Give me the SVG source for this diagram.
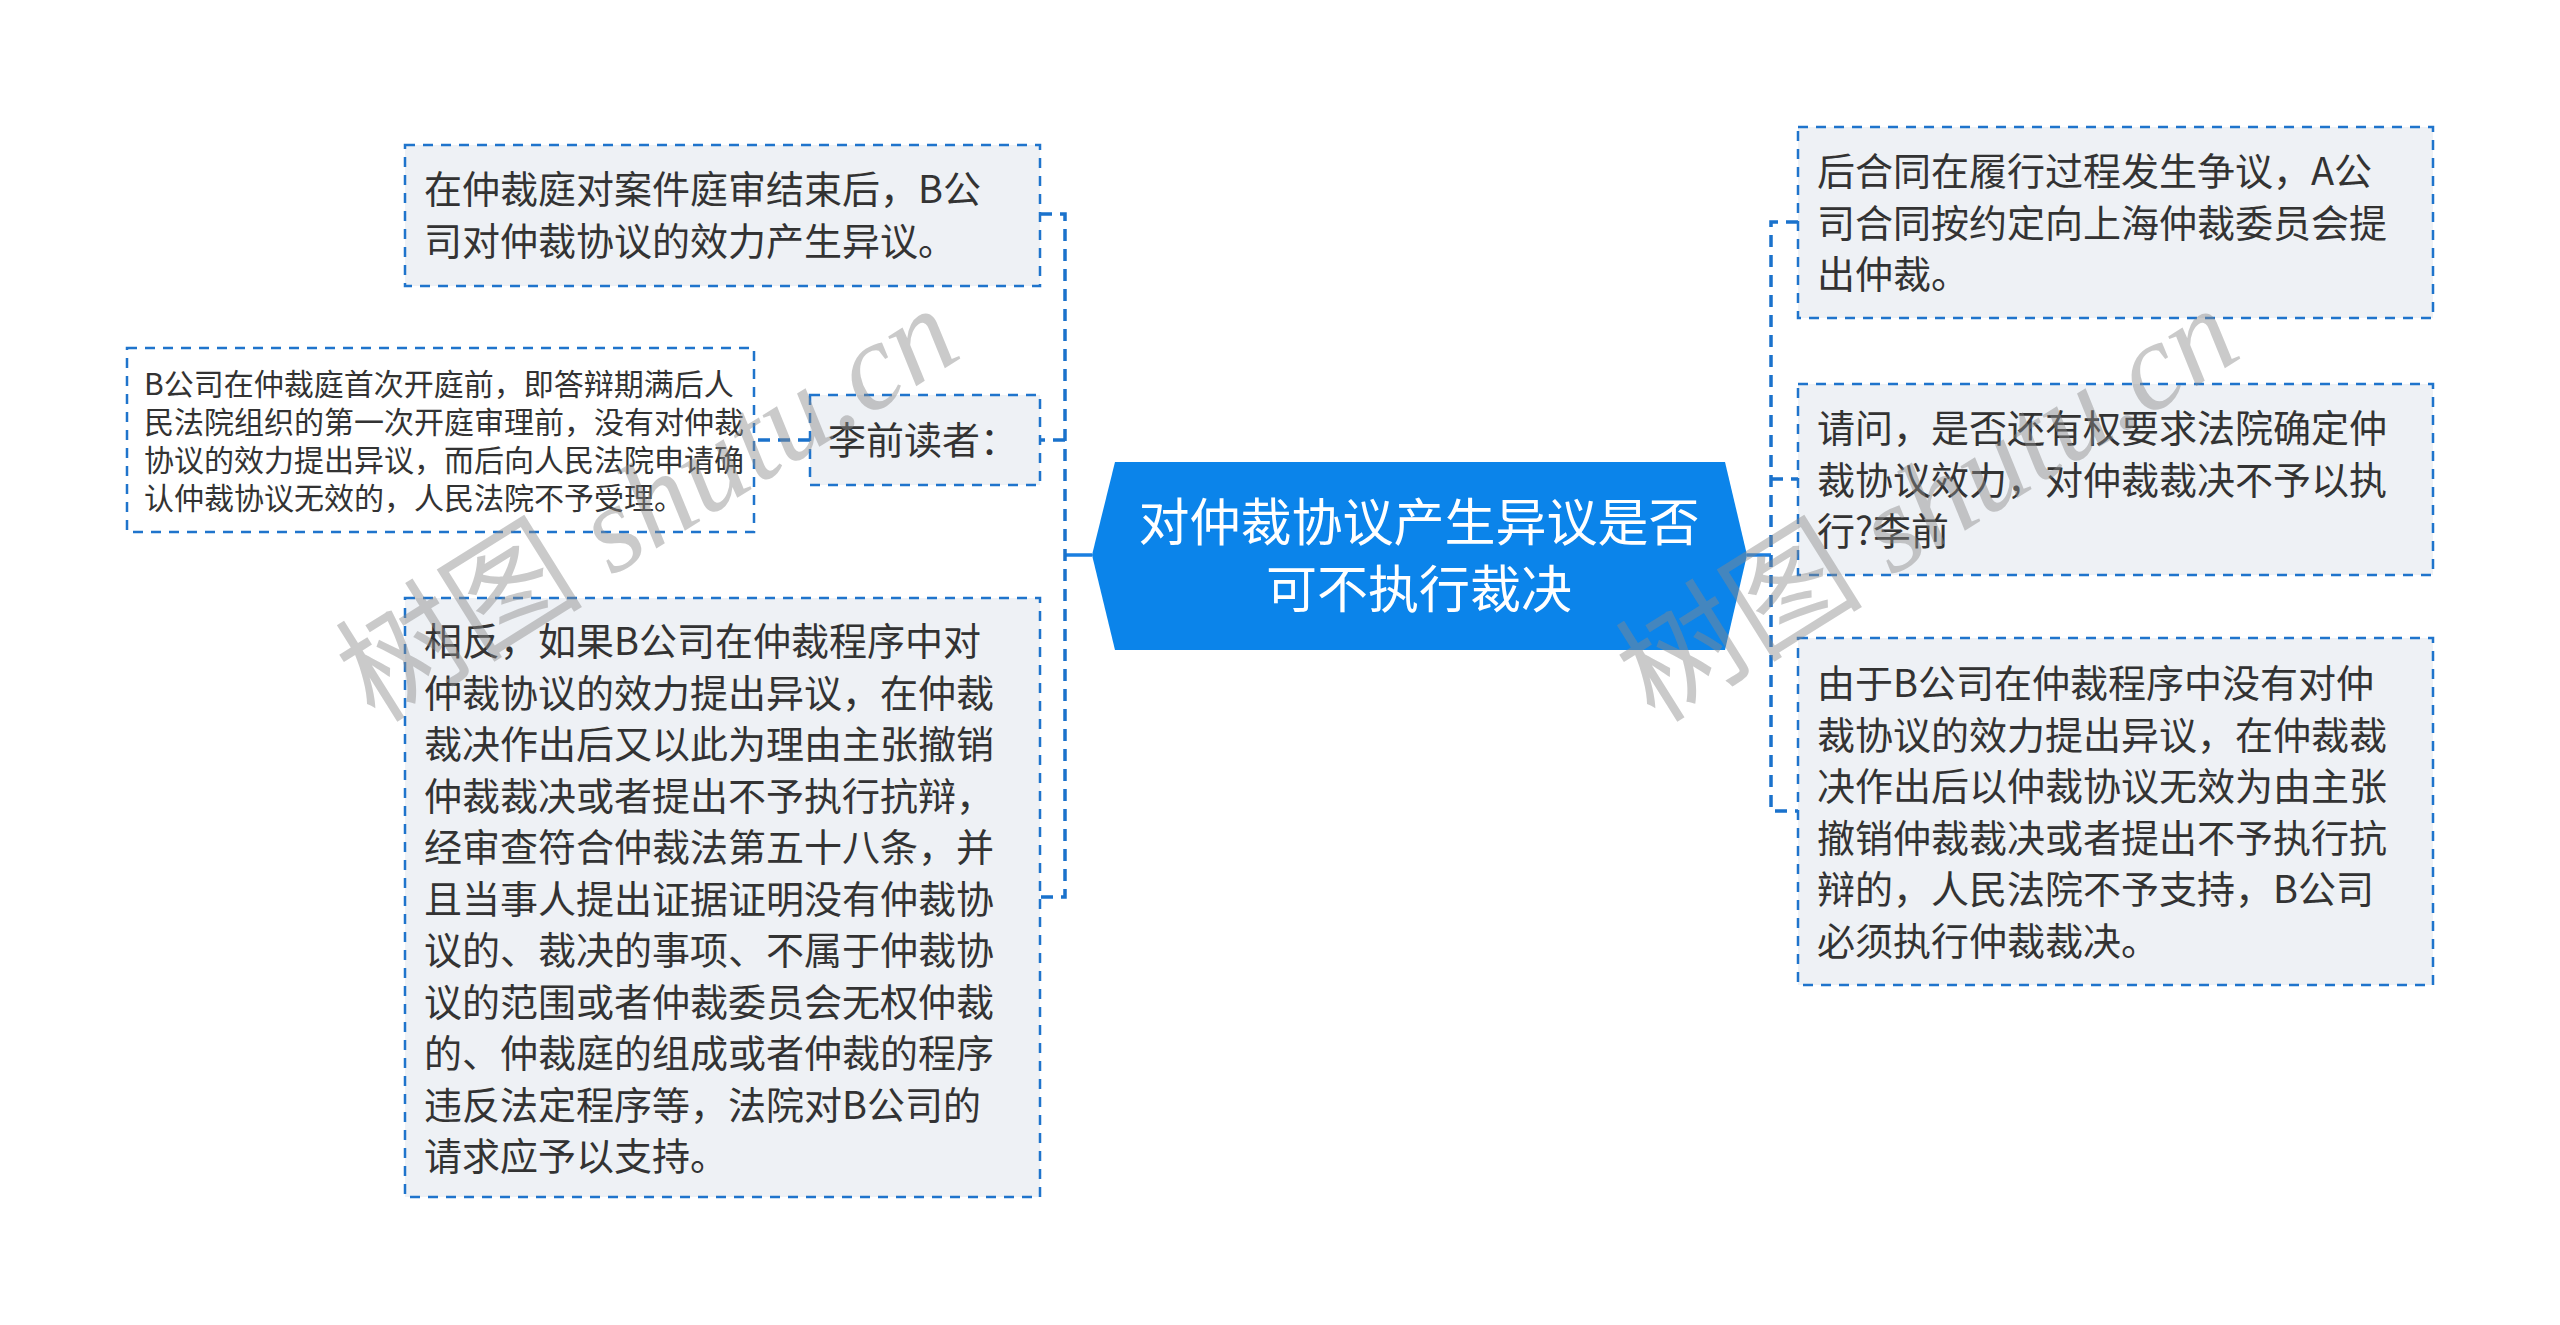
<svg xmlns="http://www.w3.org/2000/svg" width="2560" height="1325" viewBox="0 0 2560 1325">
<style>
  .box{fill:#eef1f5;stroke:#1f74cc;stroke-width:2.5;stroke-dasharray:10 8}
  .boxw{fill:#ffffff;stroke:#1f74cc;stroke-width:2.5;stroke-dasharray:10 8}
  .t{font-family:"Noto Sans CJK SC","Noto Sans",sans-serif;font-size:38px;fill:#333333}
  .ts{font-family:"Noto Sans CJK SC","Noto Sans",sans-serif;font-size:30px;fill:#333333}
  .tc{font-family:"Noto Sans CJK SC","Noto Sans",sans-serif;font-size:51px;fill:#ffffff;text-anchor:middle}
  .dash{fill:none;stroke:#1a72cc;stroke-width:3.5;stroke-dasharray:12 8}
  .solid{fill:none;stroke:#1a7ee0;stroke-width:3.5}
  .wm{font-family:"Liberation Serif","Noto Sans CJK SC",serif;font-size:124px;fill:#8a8a8a;fill-opacity:0.45;text-anchor:middle}
</style>
<rect width="2560" height="1325" fill="#ffffff"/>

<g id="connectors">
  <path class="solid" d="M1092,555 H1065"/>
  <path class="dash" d="M1040,214 H1065 V897 H1040"/>
  <path class="dash" d="M1065,440 H1040"/>
  <path class="dash" d="M810,440 H754"/>
  <path class="solid" d="M1747,555 H1771"/>
  <path class="dash" d="M1798,222 H1771 V811 H1798"/>
  <path class="dash" d="M1771,479 H1798"/>
</g>

<g id="center">
  <polygon points="1092,555 1115,462 1725,462 1747,555 1725,650 1115,650" fill="#0b84ea"/>
  <text class="tc" x="1419" y="541">对仲裁协议产生异议是否</text>
  <text class="tc" x="1419" y="608">可不执行裁决</text>
</g>

<g id="nodeA">
  <rect class="box" x="405" y="145" width="635" height="141"/>
  <text class="t" x="424" y="203">在仲裁庭对案件庭审结束后，B公</text>
  <text class="t" x="424" y="255">司对仲裁协议的效力产生异议。</text>
</g>

<g id="nodeB">
  <rect class="box" x="810" y="395" width="230" height="90"/>
  <text class="t" x="828" y="454">李前读者：</text>
</g>

<g id="nodeC">
  <rect class="boxw" x="127" y="348" width="627" height="184"/>
  <text class="ts" x="144" y="395">B公司在仲裁庭首次开庭前，即答辩期满后人</text>
  <text class="ts" x="144" y="433">民法院组织的第一次开庭审理前，没有对仲裁</text>
  <text class="ts" x="144" y="471">协议的效力提出异议，而后向人民法院申请确</text>
  <text class="ts" x="144" y="509">认仲裁协议无效的，人民法院不予受理。</text>
</g>

<g id="nodeD">
  <rect class="box" x="405" y="598" width="635" height="599"/>
  <text class="t" x="424" y="655">相反，如果B公司在仲裁程序中对</text>
  <text class="t" x="424" y="706.5">仲裁协议的效力提出异议，在仲裁</text>
  <text class="t" x="424" y="758">裁决作出后又以此为理由主张撤销</text>
  <text class="t" x="424" y="809.5">仲裁裁决或者提出不予执行抗辩，</text>
  <text class="t" x="424" y="861">经审查符合仲裁法第五十八条，并</text>
  <text class="t" x="424" y="912.5">且当事人提出证据证明没有仲裁协</text>
  <text class="t" x="424" y="964">议的、裁决的事项、不属于仲裁协</text>
  <text class="t" x="424" y="1015.5">议的范围或者仲裁委员会无权仲裁</text>
  <text class="t" x="424" y="1067">的、仲裁庭的组成或者仲裁的程序</text>
  <text class="t" x="424" y="1118.5">违反法定程序等，法院对B公司的</text>
  <text class="t" x="424" y="1170">请求应予以支持。</text>
</g>

<g id="nodeE">
  <rect class="box" x="1798" y="127" width="635" height="191"/>
  <text class="t" x="1817" y="185">后合同在履行过程发生争议，A公</text>
  <text class="t" x="1817" y="236.5">司合同按约定向上海仲裁委员会提</text>
  <text class="t" x="1817" y="288">出仲裁。</text>
</g>

<g id="nodeF">
  <rect class="box" x="1798" y="384" width="635" height="191"/>
  <text class="t" x="1817" y="442">请问，是否还有权要求法院确定仲</text>
  <text class="t" x="1817" y="493.5">裁协议效力，对仲裁裁决不予以执</text>
  <text class="t" x="1817" y="545">行?李前</text>
</g>

<g id="nodeG">
  <rect class="box" x="1798" y="638" width="635" height="347"/>
  <text class="t" x="1817" y="697">由于B公司在仲裁程序中没有对仲</text>
  <text class="t" x="1817" y="748.5">裁协议的效力提出异议，在仲裁裁</text>
  <text class="t" x="1817" y="800">决作出后以仲裁协议无效为由主张</text>
  <text class="t" x="1817" y="851.5">撤销仲裁裁决或者提出不予执行抗</text>
  <text class="t" x="1817" y="903">辩的，人民法院不予支持，B公司</text>
  <text class="t" x="1817" y="954.5">必须执行仲裁裁决。</text>
</g>

<g id="watermarks">
  <text class="wm" transform="translate(670,540) rotate(-32)">树图 <tspan font-style="italic">shutu.cn</tspan></text>
  <text class="wm" transform="translate(1950,540) rotate(-32)">树图 <tspan font-style="italic">shutu.cn</tspan></text>
</g>
</svg>
